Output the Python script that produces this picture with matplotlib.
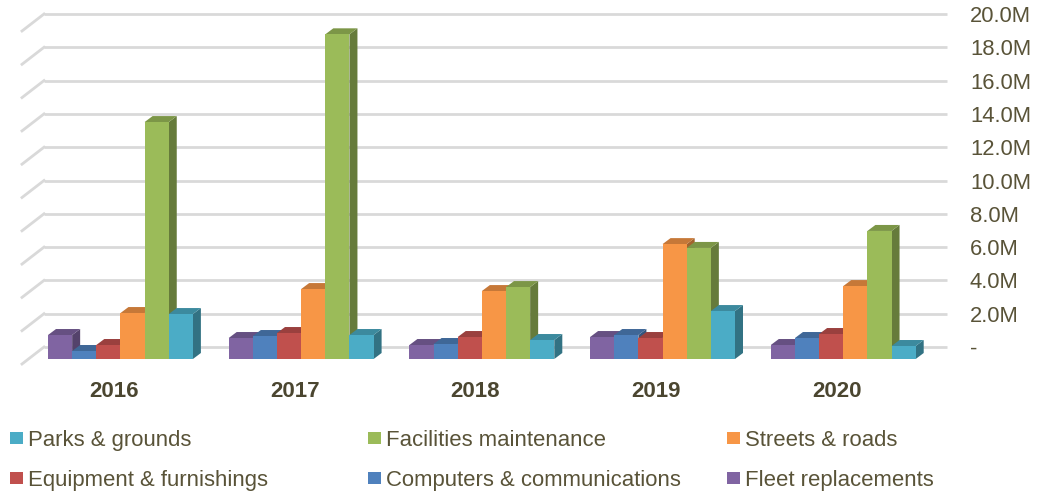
import matplotlib
matplotlib.use('Agg')
import matplotlib.pyplot as plt
from matplotlib.patches import Polygon, Rectangle
from matplotlib.colors import to_rgb

years = ['2016', '2017', '2018', '2019', '2020']
fleet = [1.44, 1.26, 0.84, 1.32, 0.84]
computers = [0.48, 1.38, 0.90, 1.44, 1.26]
equipment = [0.84, 1.56, 1.32, 1.26, 1.50]
streets = [2.76, 4.20, 4.08, 6.90, 4.38]
facilities = [14.23, 19.50, 4.32, 6.67, 7.69]
parks = [2.70, 1.44, 1.14, 2.88, 0.78]

tick_values = [2, 4, 6, 8, 10, 12, 14, 16, 18, 20]

series = [fleet, computers, equipment, streets, facilities, parks]
colors = ['#8064a2', '#4f81bd', '#c0504d', '#f79646', '#9bbb59', '#4bacc6']
legend_names = [['Parks & grounds', 'Facilities maintenance', 'Streets & roads'],
                ['Equipment & furnishings', 'Computers & communications', 'Fleet replacements']]
legend_colors = [['#4bacc6', '#9bbb59', '#f79646'],
                 ['#c0504d', '#4f81bd', '#8064a2']]

plt.rcParams['font.family'] = ['Liberation Sans', 'DejaVu Sans']

W, H = 1037, 493
PX_X = 180.7  # pixels per group
PX_Y = 16.65  # pixels per million
X0, Y0 = 48, 359  # front baseline of the first bar
bar_w = 24.15 / PX_X
depth_x, depth_y = 8 / PX_X, 6 / PX_Y
wall_y = 12 / PX_Y
wall_left = -4 / PX_X
wall_right = (947 - X0) / PX_X
diag_x, diag_y = 22 / PX_X, 17 / PX_Y
grid_color = '#d9d9d9'
text_color = '#595338'


def shade(color, f):
    return tuple(c * f for c in to_rgb(color))


fig = plt.figure(figsize=(W / 100, H / 100), dpi=100)
ax = fig.add_axes([0, 0, 1, 1])
ax.set_xlim(-X0 / PX_X, (W - X0) / PX_X)
ax.set_ylim(-(H - Y0) / PX_Y, Y0 / PX_Y)
ax.axis('off')

# back wall grid
for v in [0] + tick_values:
    y = v + wall_y
    ax.plot([wall_left, wall_right], [y, y], color=grid_color, lw=2.0, solid_capstyle='butt', zorder=1)
    ax.plot([wall_left - diag_x, wall_left], [y - diag_y, y], color=grid_color, lw=2.0, zorder=1)
    label = '-' if v == 0 else '%.1fM' % v
    ax.text((970 - X0) / PX_X, y, label, fontsize=15.8, color=text_color, ha='left', va='center_baseline')

# 3d looking bars, left to right so the next bar covers the side of the last
z = 2
for g in range(len(years)):
    for s, vals in enumerate(series):
        l = g + s * bar_w
        r = l + bar_w
        v = vals[g]
        c = colors[s]
        ax.add_patch(Polygon([(r, 0), (r + depth_x, depth_y), (r + depth_x, v + depth_y), (r, v)],
                             fc=shade(c, 0.66), ec='none', zorder=z))
        ax.add_patch(Polygon([(l, v), (r, v), (r + depth_x, v + depth_y), (l + depth_x, v + depth_y)],
                             fc=shade(c, 0.8), ec='none', zorder=z))
        ax.add_patch(Rectangle((l, 0), bar_w, v, fc=c, ec='none', zorder=z))
        z += 1
    ax.text(g + 3 * bar_w - 6.5 / PX_X, -(389 - Y0) / PX_Y, years[g], fontsize=16, fontweight='bold',
            color='#4b4630', ha='center', va='center_baseline')

# legend placed by hand in pixels
trans = fig.transFigure
col_x = [10, 368, 727]
row_y = [438, 478]
for i, y in enumerate(row_y):
    for j, x in enumerate(col_x):
        fig.add_artist(Rectangle((x / W, 1 - (y + 6) / H), 13 / W, 12 / H, fc=legend_colors[i][j], ec='none', transform=trans))
        fig.text((x + 18) / W, 1 - y / H, legend_names[i][j], fontsize=15.9, color=text_color, ha='left', va='center_baseline')

fig.savefig('out.png', dpi=100)
